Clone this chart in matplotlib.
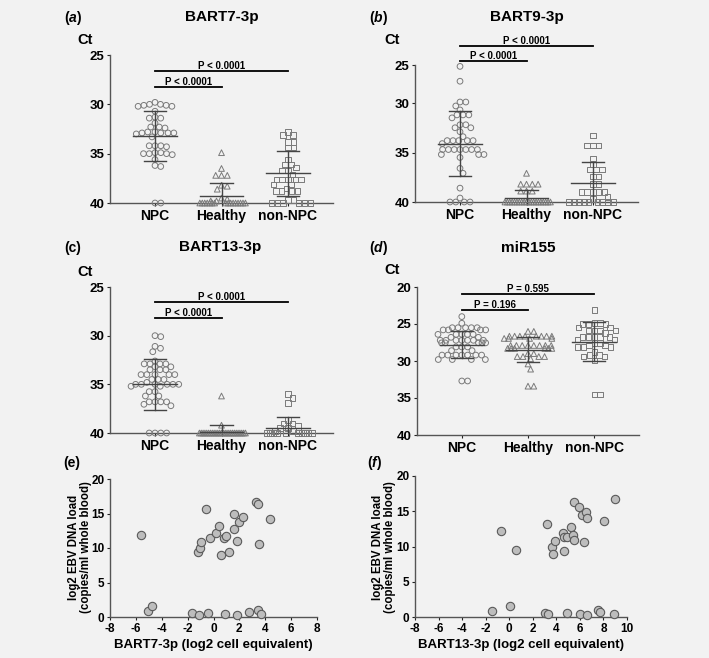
import numpy as np
import matplotlib
matplotlib.use("Agg")
import matplotlib.pyplot as plt

plt.rcParams['font.family'] = ['Liberation Sans', 'DejaVu Sans']
plt.rcParams['font.weight'] = 'bold'
plt.rcParams['mathtext.fontset'] = 'custom'
plt.rcParams['mathtext.it'] = 'Liberation Sans:italic:bold'
plt.rcParams['mathtext.rm'] = 'Liberation Sans:bold'

# ---------------- data ----------------
groups = ["NPC", "Healthy", "non-NPC"]

a_npc = [29.8, 30.0, 30.2, 30.2, 30.0, 30.1, 30.1, 30.7, 31.3, 31.4, 31.4, 31.9, 32.3, 32.3, 32.4,
         32.9, 32.9, 32.8, 32.9, 33.0, 32.9, 32.8, 33.3, 34.2, 34.2, 34.3, 34.2, 35.0, 34.9, 35.0,
         35.1, 35.0, 34.9, 35.6, 36.2, 36.3, 40, 40]
a_healthy = [34.9, 36.5, 37.2, 37.2, 37.2, 38.2, 38.3, 38.6, 39.5, 39.6, 39.8, 39.8] + [40] * 16
a_non = [32.8, 33.1, 33.1, 33.8, 33.8, 34.4, 34.4, 35.6, 36.1, 36.1, 36.4, 36.7, 36.7, 37.1,
         37.6, 37.6, 37.6, 37.6, 37.6, 38.1, 38.1, 38.5, 38.8, 38.8, 38.8, 38.8, 39.7, 39.7] + [40] * 6
a_mean = [33.2, 39.3, 37.0]
a_sd = [2.5, 1.3, 2.25]

b_npc = [26.3, 27.8, 29.9, 29.9, 30.3, 30.7, 31.2, 31.2, 31.2, 31.5, 32.2, 32.2, 32.5, 32.5, 32.9,
         33.4, 33.8, 33.8, 33.8, 33.8, 33.8, 34.1, 34.7, 34.7, 34.7, 34.7, 34.7, 34.7, 34.7, 35.2,
         35.2, 35.2, 35.5, 36.6, 37.1, 38.6, 39.6, 40, 40, 40, 40]
b_healthy = [37.1, 38.2, 38.2, 38.2, 38.2, 38.9, 38.9, 38.9] + [40] * 20
b_non = [33.3, 34.3, 34.3, 34.3, 35.6, 36.2, 36.7, 36.7, 36.7, 37.4, 37.4, 38.2, 38.2, 39.0, 39.0,
         39.0, 39.0, 39.0, 39.5, 39.7] + [40] * 9
b_mean = [34.1, 39.6, 38.05]
b_sd = [3.25, 0.8, 2.1]

c_npc = [30.0, 30.1, 31.1, 31.3, 31.65, 32.6, 32.9, 32.9, 32.9, 32.9, 33.2, 33.2, 33.5, 33.5, 33.5,
         34.0, 34.0, 34.0, 34.0, 34.0, 34.5, 34.5, 34.5, 34.8, 35.0, 35.0, 35.0, 35.0, 35.0, 35.0,
         35.2, 35.2, 35.75, 35.75, 36.2, 36.2, 36.8, 36.8, 36.8, 36.8, 37.05, 37.2, 40, 40, 40, 40]
c_healthy = [36.2, 39.2] + [40] * 26
c_non = [36.0, 36.4, 36.9, 38.65, 39.0, 39.0, 39.2, 39.5, 39.5, 39.8, 39.8, 39.8] + [40] * 10
c_mean = [35.0, 39.9, 39.5]
c_sd = [2.6, 0.7, 1.1]

d_npc = ([24.0, 24.9] + [25.5] * 5 + [25.8] * 4 + [26.4] * 5 + [26.8] * 2 + [27.2] * 7 +
         [27.55] * 5 + [28.1] * 3 + [28.6] * 2 + [29.2] * 7 + [29.8] * 4 + [32.7] * 2)
d_healthy = ([26.0] * 2 + [26.65] * 8 + [26.95] * 4 + [27.9] * 8 + [28.3] * 6 + [29.0] * 2 +
             [29.4] * 4 + [29.7, 30.4, 31.1] + [33.4] * 2)
d_non = ([23.1] + [24.85] * 2 + [25.0] * 3 + [25.5] * 2 + [25.85] * 4 + [26.2] + [26.75] * 5 +
         [27.1] * 2 + [27.55] * 2 + [27.9] * 2 + [28.1] * 3 + [28.8] + [29.2] * 2 + [29.4] * 2 +
         [29.9] + [34.5] * 2)
d_mean = [27.8, 28.45, 27.4]
d_sd = [1.8, 1.7, 2.65]

# significance brackets: (y of long bar, y of short bar), labels
a_bars = (26.6, 28.2); a_labels = ("P < 0.0001", "P < 0.0001")
b_bars = (24.2, 25.8); b_labels = ("P < 0.0001", "P < 0.0001")
c_bars = (26.5, 28.2); c_labels = ("P < 0.0001", "P < 0.0001")
d_bars = (20.9, 23.05); d_labels = ("P = 0.595", "P = 0.196")

e_x = [-5.62, -5.1, -4.72, -1.67, -1.1, -0.45, 0.91, 1.82, 2.78, 3.42, 3.68, -0.58, -1.23, -1.05,
       -0.97, -0.27, 0.19, 0.45, 0.58, 0.84, 0.97, 1.17, 1.61, 1.61, 1.79, 2.0, 2.26, 3.29, 3.47,
       3.5, 4.38]
e_y = [11.9, 0.87, 1.55, 0.58, 0.34, 0.58, 0.39, 0.34, 0.73, 1.07, 0.39, 15.6, 9.47, 10.05,
       10.8, 11.46, 12.2, 13.15, 8.98, 11.46, 11.75, 9.42, 12.8, 14.9, 11.0, 13.7, 14.47, 16.65,
       16.36, 10.58, 14.17]
f_x = [-1.45, 0.09, 3.03, 3.31, 4.88, 6.02, 6.59, 7.58, 7.67, 8.92, -0.68, 0.6, 3.17, 3.6, 3.68,
       3.88, 4.68, 4.59, 4.65, 4.88, 5.25, 5.45, 5.5, 5.5, 5.96, 6.16, 6.5, 6.59, 6.36, 8.07, 9.0]
f_y = [0.86, 1.52, 0.57, 0.38, 0.57, 0.38, 0.24, 1.05, 0.71, 0.38, 12.2, 9.48, 13.14, 10.0, 8.95,
       10.8, 9.33, 11.9, 11.33, 11.33, 12.76, 11.67, 10.95, 16.3, 15.57, 14.48, 14.86, 14.1,
       10.57, 13.67, 16.67]

# ---------------- figure ----------------
W, H = 709, 658
BG = '#f2f2f2'
fig = plt.figure(figsize=(W / 100, H / 100), dpi=100, facecolor=BG)


def px_axes(l, t, r, b):
    return fig.add_axes([l / W, 1 - b / H, (r - l) / W, (b - t) / H], facecolor=BG)


def ftext(x, y, s, **kw):
    fig.text(x / W, 1 - y / H, s, **kw)


SP = '#555555'
MK = '#7a7a7a'


def style(ax):
    for s in ['top', 'right']:
        ax.spines[s].set_visible(False)
    for s in ['left', 'bottom']:
        ax.spines[s].set_color(SP)
        ax.spines[s].set_linewidth(1.0)
    ax.tick_params(colors='#222222', width=0.8, length=2.5, pad=1.5)
    ax.tick_params(axis='both', labelcolor='black')


def beeswarm(ypx, d, cap):
    ypx = np.asarray(ypx, float)
    xs = np.zeros(len(ypx))
    placed = []
    for i in np.argsort(ypx, kind='stable'):
        y = ypx[i]
        nb = [(px, py) for px, py in placed if abs(py - y) < d]
        cands = [0.0]
        for px, py in nb:
            dx = np.sqrt(max(d * d - (py - y) ** 2, 0))
            cands += [px + dx, px - dx]
        cands = sorted(cands, key=lambda c: abs(c))
        chosen = cands[-1]
        for c in cands:
            if all((c - px) ** 2 + (y - py) ** 2 >= d * d - 1e-6 for px, py in nb):
                chosen = c
                break
        xs[i] = chosen
        placed.append((chosen, y))
    # compress rows of identical values that run too wide
    vals = np.round(ypx, 3)
    for v in np.unique(vals):
        m = vals == v
        mx = np.max(np.abs(xs[m]))
        if mx > cap:
            xs[m] = xs[m] * cap / mx
    return xs


def dotpanel(ax, data, means, sds, ylim, yticks, yticklabels, bars, labels):
    style(ax)
    ax.set_xlim(0.323, 3.677)
    ax.set_ylim(*ylim)
    ax.set_yticks(yticks)
    ax.set_yticklabels(yticklabels, fontsize=9.5, fontweight='bold')
    ax.set_xticks([1, 2, 3])
    ax.set_xticklabels(groups, fontsize=10, fontweight='bold')
    fig.canvas.draw()
    bbox = ax.get_window_extent()
    pxx = bbox.width / (ax.get_xlim()[1] - ax.get_xlim()[0])
    pxy = bbox.height / abs(ylim[1] - ylim[0])
    markers = ['o', '^', 's']
    sizes = [17, 17, 15]
    for k, vals in enumerate(data):
        vals = np.asarray(vals, float)
        off = beeswarm(vals * pxy, 5.8, 0.36 * pxx) / pxx
        ax.scatter(k + 1 + off, vals, s=sizes[k], marker=markers[k], facecolor='none',
                   edgecolor=MK, linewidth=0.7, clip_on=False, zorder=3)
        m, s = means[k], sds[k]
        ax.plot([k + 1 - 0.33, k + 1 + 0.33], [m, m], color='#444444', lw=1.0, zorder=4)
        ax.plot([k + 1, k + 1], [m - s, m + s], color='#444444', lw=1.0, zorder=4)
        for e in (m - s, m + s):
            ax.plot([k + 1 - 0.17, k + 1 + 0.17], [e, e], color='#444444', lw=1.0, zorder=4)
    # brackets
    for (x0, x1), yb, lab in zip([(1, 3), (1, 2)], bars, labels):
        ax.plot([x0, x1], [yb, yb], color='black', lw=1.3, clip_on=False, zorder=5)
        ax.text((x0 + x1) / 2, yb, lab, ha='center', va='bottom', fontsize=7,
                fontweight='bold', clip_on=False)


ax_a = px_axes(110, 55, 333, 203)
dotpanel(ax_a, [a_npc, a_healthy, a_non], a_mean, a_sd, (40, 25), [25, 30, 35, 40],
         ['25', '30', '35', '40'], a_bars, a_labels)
ax_b = px_axes(415, 65, 638, 202)
dotpanel(ax_b, [b_npc, b_healthy, b_non], b_mean, b_sd, (40, 26.16), [26.16, 30, 35, 40],
         ['25', '30', '35', '40'], b_bars, b_labels)
ax_c = px_axes(110, 287, 333, 433)
dotpanel(ax_c, [c_npc, c_healthy, c_non], c_mean, c_sd, (40, 25), [25, 30, 35, 40],
         ['25', '30', '35', '40'], c_bars, c_labels)
ax_d = px_axes(417, 287, 639, 435)
dotpanel(ax_d, [d_npc, d_healthy, d_non], d_mean, d_sd, (40, 20), [20, 25, 30, 35, 40],
         ['20', '25', '30', '35', '40'], d_bars, d_labels)


def scatpanel(ax, x, y, xlim, xticks, xlabel):
    style(ax)
    ax.scatter(x, y, s=36, facecolor='#bdbdbd', edgecolor='#5a5a5a', linewidth=0.8,
               zorder=3, clip_on=False)
    ax.set_xlim(*xlim)
    ax.set_ylim(0, 20)
    ax.set_xticks(xticks)
    ax.set_xticklabels([str(t) for t in xticks], fontsize=8.5, fontweight='bold')
    ax.set_yticks([0, 5, 10, 15, 20])
    ax.set_yticklabels(['0', '5', '10', '15', '20'], fontsize=8.5, fontweight='bold')
    ax.set_xlabel(xlabel, fontsize=9.5, fontweight='bold', labelpad=3)


ax_e = px_axes(110, 479, 317, 617)
scatpanel(ax_e, e_x, e_y, (-8, 8), list(range(-8, 9, 2)), 'BART7-3p (log2 cell equivalent)')
ax_f = px_axes(415, 476, 627, 617)
scatpanel(ax_f, f_x, f_y, (-8, 10), list(range(-8, 11, 2)), 'BART13-3p (log2 cell equivalent)')

ylab = 'log2 EBV DNA load\n(copies/ml whole blood)'
ftext(80, 547, ylab, rotation=90, ha='center', va='center', fontsize=8.3, fontweight='bold',
      linespacing=1.05)
ftext(384, 547, ylab, rotation=90, ha='center', va='center', fontsize=8.3, fontweight='bold',
      linespacing=1.05)

# titles, panel letters, Ct labels
ftext(222, 17, 'BART7-3p', ha='center', va='center', fontsize=11, fontweight='bold')
ftext(527, 17, 'BART9-3p', ha='center', va='center', fontsize=11, fontweight='bold')
ftext(220, 247, 'BART13-3p', ha='center', va='center', fontsize=11, fontweight='bold')
ftext(528, 248, 'miR155', ha='center', va='center', fontsize=11, fontweight='bold')

for (x, y, s) in [(73, 18, r'($\mathit{a}$)'), (378, 18, r'($\mathit{b}$)'),
                  (73, 248, '(c)'), (378, 248, r'($\mathit{d}$)'),
                  (72, 463, '(e)'), (375, 463, r'($\mathit{f}$)')]:
    ftext(x, y, s, ha='center', va='center', fontsize=10, fontweight='bold')

for (x, y) in [(85, 40), (392, 40), (85, 272), (392, 270)]:
    ftext(x, y, 'Ct', ha='center', va='center', fontsize=10.5, fontweight='bold')

fig.savefig('out.png', dpi=100, facecolor=BG)
